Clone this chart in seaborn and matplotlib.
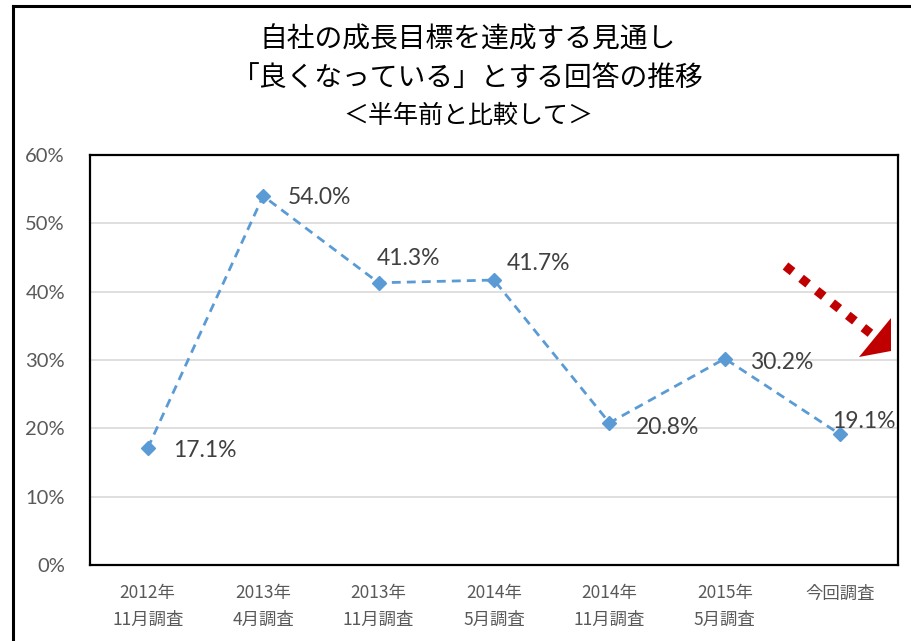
import matplotlib
matplotlib.use("Agg")
import matplotlib.pyplot as plt
import seaborn as sns
import pandas as pd
from matplotlib.lines import Line2D
from matplotlib.patches import Polygon

# ---- data ----
categories = ["2012年\n11月調査", "2013年\n4月調査", "2013年\n11月調査", "2014年\n5月調査",
              "2014年\n11月調査", "2015年\n5月調査", "今回調査"]
values = [17.1, 54.0, 41.3, 41.7, 20.8, 30.2, 19.1]
value_labels = ["17.1%", "54.0%", "41.3%", "41.7%", "20.8%", "30.2%", "19.1%"]
yticks = [0, 10, 20, 30, 40, 50, 60]
ytick_labels = ["0%", "10%", "20%", "30%", "40%", "50%", "60%"]
title_lines = ["自社の成長目標を達成する見通し", "「良くなっている」とする回答の推移", "＜半年前と比較して＞"]

sns.set_theme(style="white")
plt.rcParams['font.family'] = ['Noto Sans CJK JP', 'DejaVu Sans']

W, H = 911, 641
fig = plt.figure(figsize=(W / 100, H / 100), dpi=100)
ax = fig.add_axes([90 / W, 1 - 565 / H, (898 - 90) / W, (565 - 155) / H])

df = pd.DataFrame({"pos": list(range(len(values))), "value": values})
sns.lineplot(data=df, x="pos", y="value", ax=ax, color="#5B9BD5", linewidth=2.0,
             marker="D", markersize=7.5, markeredgewidth=1, markeredgecolor="#5B9BD5",
             linestyle="--")
for ln in ax.get_lines():
    ln.set_dashes((3.2, 2.2))

ax.set_xlim(-0.5, len(values) - 0.5)
ax.set_ylim(0, 60)
ax.set_yticks(yticks)
ax.set_yticklabels(ytick_labels, fontfamily="Lato", fontsize=14.5, color="#595959")
ax.set_xticks(range(len(categories)))
ax.set_xticklabels(categories, fontsize=12.5, color="#595959", linespacing=1.6)
ax.tick_params(axis="y", length=0, pad=18)
ax.tick_params(axis="x", length=0, pad=14)
ax.set_xlabel("")
ax.set_ylabel("")
ax.yaxis.grid(True, color="#D9D9D9", linewidth=1.2)
ax.xaxis.grid(False)
ax.set_axisbelow(True)
for s in ax.spines.values():
    s.set_visible(True)
    s.set_color("black")
    s.set_linewidth(1.6)

# data labels (pixel offsets)
offsets = [(25, 0), (25, 0), (-2, 26), (13, 19), (26, -3), (25, -2), (-8, 15)]
for i, (v, lab) in enumerate(zip(values, value_labels)):
    dx, dy = offsets[i]
    ax.annotate(lab, (i, v), xytext=(dx, dy), textcoords="offset pixels",
                ha="left", va="center_baseline", fontfamily="Lato", fontsize=16.5, color="#404040")

# title
fig.text(468 / W, 1 - 40 / H, title_lines[0], ha="center", va="center", fontsize=20, color="black")
fig.text(468 / W, 1 - 78 / H, title_lines[1], ha="center", va="center", fontsize=20, color="black")
fig.text(468 / W, 1 - 116 / H, title_lines[2], ha="center", va="center", fontsize=18, color="black")

# red dotted arrow decoration
def fp(x, y):
    return (x / W, 1 - y / H)

p0, p1 = fp(785.5, 266), fp(872, 334.5)
arrow_line = Line2D([p0[0], p1[0]], [p0[1], p1[1]],
                    transform=fig.transFigure, color="#C00000", linewidth=6.5,
                    dash_capstyle="butt", solid_capstyle="butt")
arrow_line.set_dashes((1.0, 1.2))
fig.add_artist(arrow_line)
fig.add_artist(Polygon([fp(891, 318), fp(891, 351), fp(859, 357)], closed=True,
                       transform=fig.transFigure, facecolor="#C00000", edgecolor="none"))

# outer frame
fig.add_artist(Line2D([13 / W, 13 / W], [0, 1 - 6 / H], transform=fig.transFigure,
                      color="black", linewidth=2.2, solid_capstyle="projecting"))
fig.add_artist(Line2D([13 / W, 1], [1 - 6 / H, 1 - 6 / H], transform=fig.transFigure,
                      color="black", linewidth=2.2, solid_capstyle="projecting"))

fig.savefig("out.png", dpi=100)
